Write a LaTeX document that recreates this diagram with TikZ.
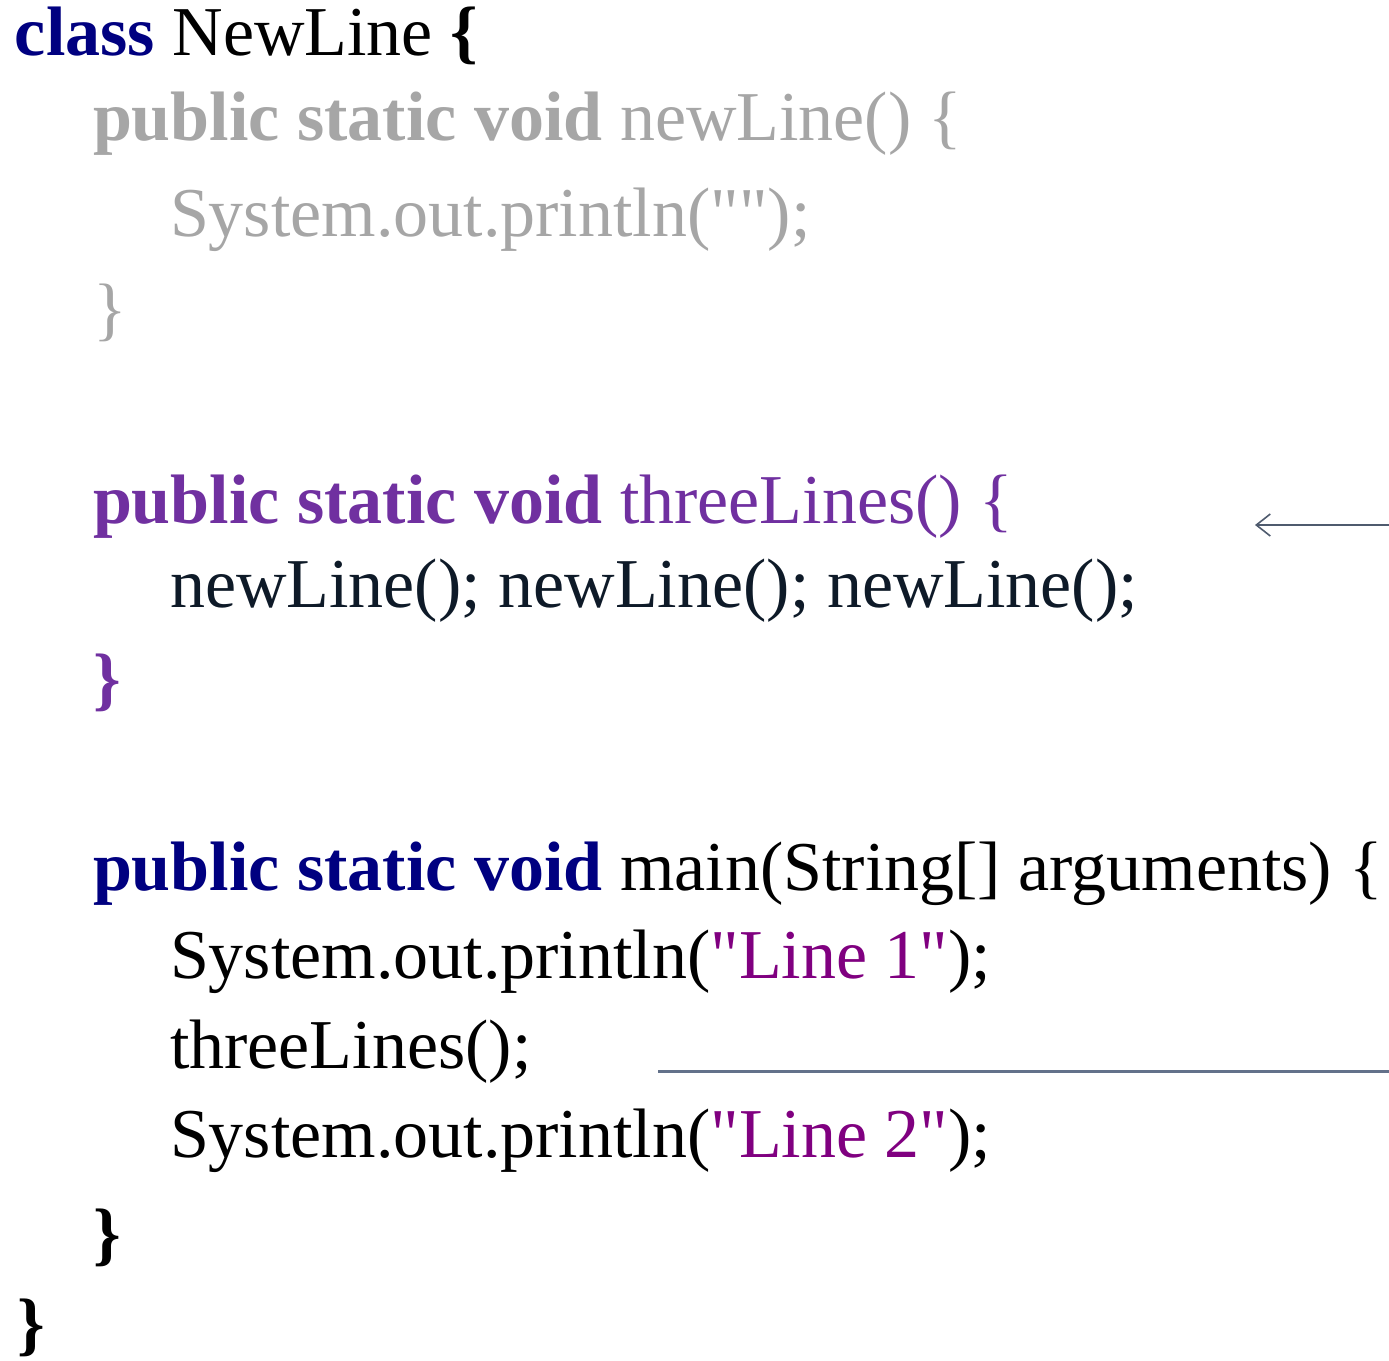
\documentclass[tikz,border=0pt]{standalone}
\usepackage{fontspec}
\setmainfont{Liberation Serif}
\usepackage{tikz}
\usetikzlibrary{arrows.meta, positioning}
\definecolor{kwnavy}{HTML}{000080}
\definecolor{fadegray}{HTML}{A6A6A6}
\definecolor{callpurple}{HTML}{7030A0}
\definecolor{strpurple}{HTML}{800080}
\definecolor{inkdark}{HTML}{0E1A28}
\definecolor{pointer}{HTML}{4F5B6E}
\definecolor{callrule}{HTML}{63718A}
% straight double quote, loaded without the tex-text mapping
\font\plainqfont="Liberation Serif" at 35pt
\newcommand{\dq}{{\plainqfont"}}

\begin{document}
\begin{tikzpicture}[
        x=0.5pt, y=-0.5pt,
        code/.style={anchor=base west, inner sep=0pt, outer sep=0pt, font=\fontsize{35}{42}\selectfont},
        >={Straight Barb[length=7pt,width=11pt]},
        ]
        \useasboundingbox (0,0) rectangle (1389,1361);

        \node[code] (cls) at (15,55) {{\color{kwnavy}\textbf{class}} NewLine \textbf{\{}};

        \node[code, fadegray] (nlhead) at (93,140) {\textbf{public static void} newLine() \{};
        \node[code, fadegray] (nlbody) at (170,236) {System.out.println(\dq\dq);};
        \node[code, fadegray] (nlend)  at (93,332) {\}};

        \node[code, callpurple] (tlhead) at (93,523) {\textbf{public static void} threeLines() \{};
        \node[code, inkdark]    (tlbody) at (170,607) {newLine(); newLine(); newLine();};
        \node[code, callpurple] (tlend)  at (93,702) {\textbf{\}}};

        \node[code] (mnhead) at (93,890) {{\color{kwnavy}\textbf{public static void}} main(String[] arguments) \{};
        \node[code] (mnone)  at (170,978) {System.out.println({\color{strpurple}\dq Line 1\dq});};
        \node[code] (mncall) at (170,1068) {threeLines();};
        \node[code] (mntwo)  at (170,1157) {System.out.println({\color{strpurple}\dq Line 2\dq});};
        \node[code] (mnend)  at (93,1257) {\textbf{\}}};

        \node[code] (clsend) at (18,1347) {\textbf{\}}};

        \coordinate (arrtail) at (1389,525);
        \coordinate (arrtip)  at (1255,525);
        \draw[->, pointer, line width=0.8pt] (arrtail) -- (arrtip);

        \coordinate (rulestart) at (658,1071);
        \coordinate (ruleend)   at (1389,1071);
        \draw[callrule, line width=1.5pt] (rulestart) -- (ruleend);
      \end{tikzpicture}
\end{document}
